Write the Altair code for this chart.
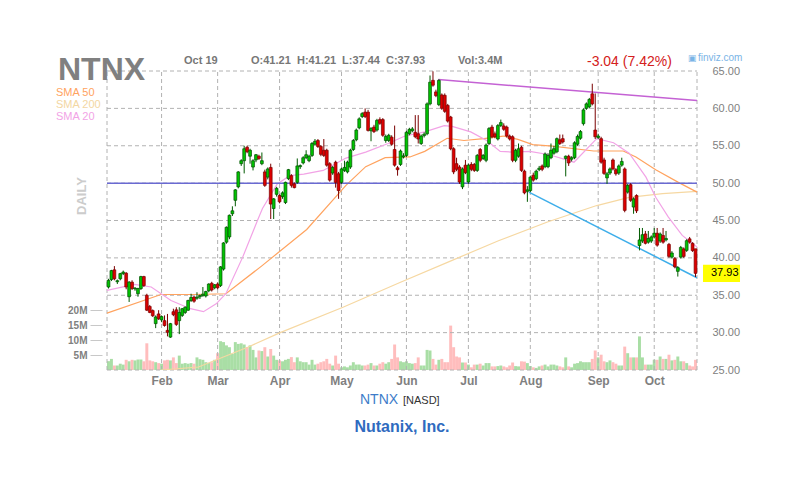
import altair as alt
import pandas as pd

# ---------------- data ----------------
opens = [36.1, 37.1, 38.4, 36.8, 37.2, 37.9, 37.95, 34.8, 36.75, 35.85,
         35.2, 35.9, 37.5, 35.0, 33.5, 32.95, 31.2, 32.5, 31.7, 31.6,
         30.3, 29.4, 32.8, 33.05, 31.6, 32.3, 32.7, 33.0, 34.3, 34.75,
         34.6, 34.8, 34.95, 34.9, 35.6, 36.6, 36.0, 36.5, 36.3, 38.5,
         42.1, 42.8, 45.9, 47.7, 49.5, 52.6, 53.0, 54.8, 53.6, 52.15,
         53.1, 53.6, 52.6, 51.5, 50.8, 52.1, 46.6, 48.5, 48.35, 48.2,
         47.4, 50.6, 51.0, 49.9, 50.1, 52.2, 52.7, 53.4, 53.0, 53.7,
         55.2, 55.7, 54.9, 54.4, 54.4, 52.6, 51.35, 52.8, 51.25, 50.1,
         51.7, 51.5, 52.15, 54.5, 55.8, 57.4, 58.9, 59.5, 59.5, 57.0,
         57.5, 57.1, 58.5, 58.5, 55.7, 55.7, 56.15, 54.5, 52.05, 52.5,
         53.5, 53.7, 56.6, 57.0, 56.8, 56.6, 55.3, 56.35, 56.6, 60.6,
         63.75, 62.2, 60.5, 61.8, 61.75, 60.4, 58.85, 54.6, 52.6, 52.15,
         49.5, 52.4, 50.15, 52.5, 52.5, 51.7, 54.5, 53.3, 53.05, 55.3,
         57.5, 56.6, 55.9, 57.7, 57.65, 57.5, 56.3, 56.2, 53.05, 53.6,
         54.8, 51.6, 48.9, 49.0, 51.05, 50.6, 51.8, 52.3, 52.2, 52.2,
         53.4, 54.0, 54.2, 55.8, 55.95, 53.3, 53.6, 53.2, 53.4, 55.2,
         56.0, 57.95, 60.0, 60.2, 61.95, 57.1, 56.1, 55.95, 53.1, 50.7,
         51.35, 53.1, 51.8, 51.35, 52.4, 51.9, 48.8, 49.8, 46.8, 48.35,
         41.65, 42.25, 43.2, 42.1, 42.25, 42.8, 43.3, 42.25, 43.0, 42.4,
         41.8, 40.1, 39.9, 38.2, 40.1, 41.2, 41.0, 42.55, 41.95, 41.21]
highs = [37.2, 38.4, 38.9, 37.1, 38.0, 38.3, 38.1, 36.9, 37.0, 36.1,
         36.0, 37.6, 37.6, 35.2, 33.7, 33.1, 32.3, 33.0, 32.3, 32.3,
         32.5, 31.3, 33.2, 33.4, 33.4, 33.3, 33.5, 34.4, 35.2, 34.9,
         35.4, 35.1, 36.1, 35.6, 36.6, 36.8, 36.5, 36.7, 38.9, 42.1,
         44.2, 45.8, 46.9, 49.2, 51.6, 53.2, 55.0, 55.0, 54.6, 53.2,
         53.9, 53.8, 54.1, 51.8, 52.1, 52.6, 48.0, 49.5, 48.5, 48.9,
         50.2, 51.9, 51.2, 50.1, 53.3, 52.5, 53.6, 54.4, 53.8, 55.5,
         55.9, 55.9, 55.1, 55.9, 54.6, 52.8, 52.3, 53.0, 51.5, 52.1,
         53.0, 53.0, 54.6, 55.9, 57.3, 58.8, 59.5, 60.0, 59.8, 57.5,
         57.8, 58.6, 58.8, 58.7, 56.5, 56.6, 56.4, 57.7, 52.3, 54.5,
         54.0, 57.0, 57.4, 57.5, 59.1, 59.1, 56.5, 56.8, 60.8, 64.4,
         64.96, 62.5, 63.9, 62.0, 62.0, 60.6, 59.0, 54.8, 53.4, 52.4,
         52.1, 53.1, 52.6, 52.8, 52.7, 53.9, 54.7, 53.9, 55.3, 57.5,
         57.8, 56.9, 57.9, 58.5, 58.0, 57.7, 56.5, 56.4, 54.6, 55.3,
         55.0, 51.8, 49.6, 51.0, 51.4, 51.8, 52.3, 52.5, 54.1, 54.0,
         55.3, 55.0, 56.1, 56.5, 56.5, 53.7, 53.8, 53.6, 55.6, 56.5,
         57.1, 60.0, 60.8, 61.4, 63.3, 62.0, 56.6, 56.2, 53.4, 51.5,
         52.1, 53.3, 52.0, 52.5, 53.4, 52.1, 49.9, 50.0, 48.1, 48.5,
         44.0, 44.0, 43.6, 43.6, 43.0, 44.0, 44.0, 43.4, 44.0, 43.6,
         42.0, 40.9, 40.1, 38.9, 41.6, 41.4, 42.5, 42.8, 42.1, 41.21]
lows = [35.9, 36.9, 37.0, 36.5, 37.0, 37.7, 35.8, 34.1, 35.7, 35.6,
        34.8, 35.7, 36.1, 32.9, 32.6, 32.1, 30.6, 31.7, 31.4, 30.8,
        29.5, 29.3, 32.2, 30.9, 29.8, 32.1, 32.5, 32.9, 34.1, 34.0,
        34.4, 34.5, 34.8, 34.7, 35.4, 35.5, 35.8, 35.8, 36.1, 38.3,
        41.9, 42.5, 45.6, 46.9, 49.3, 52.3, 51.3, 54.0, 52.6, 51.7,
        52.8, 53.1, 52.4, 49.5, 50.5, 45.2, 45.2, 48.2, 47.3, 47.9,
        47.2, 50.4, 49.4, 49.3, 49.9, 51.9, 52.5, 53.2, 52.8, 53.5,
        55.0, 54.7, 53.6, 53.5, 52.2, 50.2, 51.1, 49.4, 47.9, 49.9,
        51.5, 51.3, 51.9, 54.3, 55.6, 57.2, 58.7, 58.7, 56.9, 55.6,
        56.7, 56.9, 57.8, 56.2, 55.4, 55.5, 55.0, 52.2, 51.0, 52.3,
        53.3, 53.5, 56.4, 56.8, 56.0, 55.3, 55.1, 56.1, 56.4, 60.4,
        62.9, 61.5, 60.3, 59.8, 59.4, 58.1, 54.4, 51.2, 51.6, 49.9,
        49.2, 51.2, 49.9, 51.6, 51.5, 51.5, 52.8, 53.1, 52.8, 55.1,
        56.0, 56.0, 55.7, 57.5, 57.0, 56.1, 55.7, 52.8, 52.8, 53.4,
        51.5, 48.5, 47.5, 48.8, 50.2, 50.4, 51.6, 51.6, 52.0, 52.0,
        53.2, 53.8, 54.0, 55.1, 55.3, 50.9, 52.3, 52.9, 53.2, 55.0,
        55.8, 57.7, 59.8, 60.0, 60.4, 55.9, 55.9, 52.6, 51.1, 49.9,
        51.1, 51.7, 51.0, 51.1, 52.2, 46.1, 48.6, 47.5, 45.9, 46.0,
        41.0, 42.0, 41.8, 41.9, 42.0, 42.6, 41.5, 42.0, 41.9, 42.2,
        40.0, 39.9, 38.6, 37.5, 39.9, 40.0, 40.8, 41.9, 40.8, 37.44]
closes = [37.0, 38.3, 37.2, 36.95, 37.9, 38.1, 36.1, 36.75, 35.9, 35.95,
          35.9, 37.5, 36.3, 33.0, 32.7, 32.25, 32.1, 31.85, 32.15, 30.95,
          30.05, 31.2, 32.4, 31.1, 32.7, 33.2, 33.4, 34.3, 34.7, 34.2,
          34.75, 34.95, 35.15, 35.5, 36.5, 35.7, 36.4, 36.0, 38.8, 42.0,
          44.1, 45.7, 46.3, 49.1, 51.5, 53.0, 54.6, 54.2, 54.4, 53.0,
          53.8, 53.3, 53.0, 49.7, 51.9, 47.2, 47.9, 49.3, 47.5, 48.7,
          50.1, 51.8, 49.7, 49.4, 52.3, 52.35, 53.4, 53.8, 53.6, 55.3,
          55.6, 54.9, 53.85, 53.7, 52.4, 50.4, 52.1, 50.1, 49.0, 51.9,
          52.1, 52.8, 54.4, 55.7, 57.1, 58.6, 59.3, 58.9, 57.05, 57.3,
          56.9, 58.4, 58.0, 56.4, 56.25, 56.4, 55.2, 52.4, 51.8, 54.3,
          53.65, 56.8, 57.2, 57.25, 56.2, 55.9, 56.3, 56.55, 60.6, 63.5,
          63.1, 61.7, 63.75, 60.0, 59.6, 58.3, 54.6, 51.5, 51.85, 50.15,
          51.9, 51.4, 52.4, 51.85, 51.7, 53.7, 53.05, 53.7, 55.1, 57.3,
          56.2, 56.2, 57.7, 58.1, 57.2, 56.3, 55.9, 53.05, 54.4, 54.6,
          51.7, 48.7, 49.1, 50.8, 50.4, 51.6, 52.0, 51.85, 53.9, 53.7,
          54.4, 54.6, 55.95, 55.3, 55.5, 53.6, 52.7, 53.4, 55.4, 56.25,
          56.9, 59.8, 60.6, 61.2, 60.6, 56.2, 56.3, 52.8, 51.3, 51.25,
          51.9, 51.9, 51.25, 52.3, 52.9, 46.35, 49.7, 47.7, 47.9, 46.3,
          42.4, 43.1, 41.95, 42.6, 42.8, 43.3, 41.7, 43.2, 42.1, 42.6,
          40.2, 40.65, 38.8, 38.7, 41.4, 40.2, 42.3, 42.1, 40.97, 37.93]
volumes_m = [2.95, 3.7, 1.5, 1.5, 2.1, 1.8, 3.4, 2.9, 3.4, 3.2,
             3.5, 3.5, 2.9, 8.9, 3.2, 2.9, 2.6, 2.3, 2.1, 3.2,
             3.4, 3.2, 4.2, 2.3, 4.8, 2.1, 2.3, 2.1, 2.3, 2.1,
             4.2, 3.6, 3.4, 2.6, 2.3, 2.6, 3.4, 5.6, 9.6, 9.3,
             8.2, 7.6, 5.4, 9.3, 8.7, 8.9, 8.5, 7.6, 8.2, 6.7,
             4.2, 6.5, 6.3, 7.6, 4.5, 7.0, 4.8, 3.4, 3.2, 2.9,
             3.4, 3.7, 4.3, 2.6, 4.2, 2.9, 2.6, 2.6, 1.8, 3.4,
             1.8, 2.1, 2.6, 2.9, 3.7, 2.1, 1.5, 4.8, 2.1, 0.9,
             1.2, 0.9, 1.5, 2.6, 1.8, 1.8, 1.5, 1.5, 1.8, 2.3,
             1.5, 1.5, 2.1, 2.6, 2.1, 2.6, 3.7, 8.5, 4.2, 2.9,
             2.6, 2.9, 2.3, 2.1, 2.3, 4.2, 1.5, 1.5, 6.7, 6.5,
             3.7, 1.8, 3.4, 3.7, 2.6, 2.6, 14.8, 7.6, 4.5, 4.2,
             2.5, 2.5, 1.8, 0.9, 1.8, 1.8, 2.1, 1.5, 2.3, 2.3,
             1.2, 1.2, 1.3, 1.5, 1.2, 0.9, 1.5, 2.5, 1.3, 1.2,
             2.9, 2.8, 2.3, 1.3, 0.9, 0.7, 1.2, 1.5, 1.8, 1.2,
             1.8, 1.8, 1.5, 1.2, 0.9, 4.2, 1.2, 0.9, 2.1, 2.3,
             2.9, 2.6, 2.6, 2.6, 3.7, 6.5, 4.2, 5.1, 2.9, 2.6,
             3.2, 2.6, 2.1, 1.5, 1.5, 7.8, 5.6, 4.2, 4.2, 4.2,
             11.2, 4.2, 1.8, 1.8, 1.8, 3.4, 3.4, 4.5, 3.7, 3.7,
             5.1, 3.2, 3.4, 4.5, 2.9, 2.9, 2.3, 1.5, 1.2, 3.4]

month_names = ["Feb", "Mar", "Apr", "May", "Jun", "Jul", "Aug", "Sep", "Oct"]
month_start_bar = [18, 37, 58, 79, 101, 122, 143, 166, 185]
n_bars = 200

price_ticks = [25, 30, 35, 40, 45, 50, 55, 60, 65]
volume_ticks = [5, 10, 15, 20]

# moving averages sampled along the drawn curves (bar position, price)
sma20_pos = [0, 9.3, 15, 21.7, 28.3, 32.7, 37, 40.3, 46, 51, 52.7, 57.7, 62, 66.7,
             73.3, 81, 87.7, 95.3, 101, 107.7, 114.3, 117, 123.3, 128.7, 133.3,
             137.7, 143.3, 150, 158.3, 166, 171.7, 177, 182.7, 186, 190.3, 195, 200]
sma20_val = [35.65, 36.45, 36.1, 34.3, 33.2, 32.8, 33.85, 35.2, 40.1, 45.0, 46.6,
             49.9, 51.0, 51.2, 51.7, 53.35, 54.15, 55.3, 56.3, 56.85, 57.7, 57.6,
             56.85, 55.7, 54.25, 54.15, 54.25, 53.8, 52.8, 55.95, 55.4, 54.0,
             50.8, 48.1, 45.45, 43.0, 41.45]
sma50_pos = [0, 18.3, 29.3, 40.3, 52.7, 67.7, 81, 87.7, 94.3, 102.7, 107.7, 115.3,
             121, 127.7, 134.3, 139.3, 144.3, 151, 165, 175, 179.3, 186, 193.7, 200]
sma50_val = [32.6, 35.1, 35.1, 35.2, 39.0, 43.8, 49.7, 52.2, 53.4, 53.5, 54.25, 56.0,
             55.7, 55.95, 56.3, 55.85, 55.15, 54.96, 54.3, 54.3, 53.5, 51.8, 50.1, 48.8]
sma200_pos = [18.3, 31, 47.7, 58.7, 80, 99.3, 116, 132.7, 149.3, 166, 177, 188.3, 200]
sma200_val = [25.0, 25.4, 28.05, 30.0, 33.4, 36.7, 39.5, 42.3, 44.8, 47.0, 48.1, 48.6, 48.9]

resist_pos = [112.3, 200]
resist_val = [63.85, 61.04]
support_pos = [143, 200]
support_val = [48.8, 37.34]
level_line = 50

ticker = "NTNX"
company = "Nutanix, Inc."
exchange = "[NASD]"
date_label = "Oct 19"
ohlc_labels = ["O:41.21", "H:41.21", "L:37.44", "C:37.93"]
vol_label = "Vol:3.4M"
change_label = "-3.04 (7.42%)"

# ---------------- styling ----------------
FONT = "Liberation Sans"
GRAY = "#808080"
GRIDC = "#b2b2b2"
W, H = 600, 299

df = pd.DataFrame({"i": list(range(n_bars)), "o": opens, "h": highs,
                   "l": lows, "c": closes, "v": volumes_m})

xscale = alt.Scale(domain=[0, n_bars], nice=False, zero=False)
label_vals = [m + 0.5 for m in month_start_bar]
expr = "''"
for m, name in zip(reversed(month_start_bar), reversed(month_names)):
    expr = f"datum.value == {m + 0.5} ? '{name}' : ({expr})"
xaxis = alt.Axis(values=label_vals, labelExpr=expr, grid=False, domain=False, ticks=False,
                 title=None, labelFont=FONT, labelFontSize=12, labelFontWeight="bold",
                 labelColor=GRAY, labelPadding=5, labelAngle=0)

pscale = alt.Scale(domain=[25, 65], nice=False, zero=False)
paxis = alt.Axis(orient="right", values=price_ticks, format=".2f", grid=False,
                 domain=False, ticks=False, title=None, labelFont=FONT, labelFontSize=11,
                 labelColor=GRAY, labelPadding=10)


def X(field="u"):
    return alt.X(f"{field}:Q", scale=xscale, axis=xaxis)


def PY(field):
    return alt.Y(f"{field}:Q", scale=pscale, axis=paxis)


# dashed grid drawn as rules at the tick positions
grid_h = pd.DataFrame({"p": price_ticks, "a": [0] * len(price_ticks),
                       "b": [n_bars] * len(price_ticks)})
hgrid = alt.Chart(grid_h).mark_rule(
    color=GRIDC, strokeDash=[4, 3], strokeWidth=1).encode(
    y=PY("p"), x=X("a"), x2="b:Q")
v_pos = [0] + label_vals + [n_bars]
grid_v = pd.DataFrame({"u": v_pos, "lo": [25.0] * len(v_pos), "hi": [65.0] * len(v_pos)})
vgrid = alt.Chart(grid_v).mark_rule(
    color=GRIDC, strokeDash=[4, 3], strokeWidth=1).encode(
    x=X(), y=PY("lo"), y2="hi:Q")

base = alt.Chart(df).transform_calculate(
    u="datum.i + 0.5", x1="datum.i + 1"
)

# volume (own scale)
vol = base.mark_rect().encode(
    x=X("i"), x2="x1:Q",
    y=alt.Y("v:Q", scale=alt.Scale(domain=[0, H / 3.0], nice=False),
            axis=alt.Axis(orient="left", values=volume_ticks, labelExpr="datum.value + 'M'",
                          grid=False, domain=False, ticks=True, tickSize=12,
                          tickColor="#c8c8c8", labelFont=FONT,
                          labelFontSize=10, labelFontWeight="bold", labelColor=GRAY,
                          labelPadding=3, title=None)),
    y2=alt.datum(0),
    color=alt.condition("datum.c >= datum.o", alt.value("#a9dea5"), alt.value("#ffbdbd")),
)


def line_layer(pos, val, color, width=1.2):
    d = pd.DataFrame({"u": pos, "p": val})
    return alt.Chart(d).mark_line(color=color, strokeWidth=width, clip=True).encode(
        x=X(), y=PY("p"))


sma200 = line_layer(sma200_pos, sma200_val, "#f6d8a2")
sma50 = line_layer(sma50_pos, sma50_val, "#ffa35f")
sma20 = line_layer(sma20_pos, sma20_val, "#f2a3e6")
resist = line_layer(resist_pos, resist_val, "#c462d4", 1.5)
support = line_layer(support_pos, support_val, "#3eaeea", 1.5)
hline = line_layer([0, n_bars], [level_line, level_line], "#6a6ad2", 1.5)

wick = base.mark_rule(strokeWidth=1).encode(
    x=X(), y=PY("l"), y2="h:Q",
    color=alt.condition("datum.c >= datum.o", alt.value("#005a00"), alt.value("#7a0000")),
)
body = base.mark_bar(size=2.8, strokeWidth=0.7).encode(
    x=X(), y=PY("o"), y2="c:Q",
    color=alt.condition("datum.c >= datum.o", alt.value("#00c400"), alt.value("#dd0000")),
    stroke=alt.condition("datum.c >= datum.o", alt.value("#004d00"), alt.value("#7a0000")),
)

# last price box on the right axis
last = pd.DataFrame({"p": [closes[-1]]})
last_box = alt.Chart(last).transform_calculate(
    top="datum.p + 1.15", bot="datum.p - 1.15"
).mark_rect(color="#ffff00").encode(
    x=alt.value(W + 1), x2=alt.value(W + 38), y=PY("top"), y2="bot:Q")
last_txt = alt.Chart(last).mark_text(
    font=FONT, fontSize=11, color="#000000", align="left", baseline="middle"
).encode(x=alt.value(W + 9), y=PY("p"), text=alt.Text("p:Q", format=".2f"))


def txt(text, x, y, size, color, weight="normal", align="left", angle=0, baseline="alphabetic"):
    kw = dict(font=FONT, fontSize=size, color=color, fontWeight=weight, align=align,
              baseline=baseline)
    if angle:
        kw["angle"] = angle
    return alt.Chart(pd.DataFrame({"t": [text]})).mark_text(**kw).encode(
        x=alt.value(x), y=alt.value(y), text="t:N")


texts = [
    txt(ticker, -44, 9, 32, GRAY, "bold"),
    txt(date_label, 82, -7, 11, "#777777", "bold"),
    txt(vol_label, 356, -7, 11, "#777777", "bold"),
    txt(change_label, 485, -5, 14, "#d42020"),
    txt("\u25a3", 586, -10, 9, "#7ab4e6"),
    txt("finviz.com", 596, -10, 10, "#7ab4e6"),
    txt("SMA 50", -46, 25, 11, "#ffa35f"),
    txt("SMA 200", -46, 37, 11, "#f3d7a3"),
    txt("SMA 20", -46, 49, 11, "#f2a3e6"),
    txt("DAILY", -20, 125, 13, "#cccccc", "bold", "center", 270, "middle"),
    txt(ticker, 258, 333, 14, "#3d7cc9"),
    txt(exchange, 301, 333, 11, "#333333"),
    txt(company, 300, 361, 16, "#2f6bbf", "bold", "center"),
]
for lab, xpos in zip(ohlc_labels, [149, 195, 240, 284]):
    texts.append(txt(lab, xpos, -7, 11, "#777777", "bold"))

price = alt.layer(hgrid, vgrid, sma200, sma50, sma20, hline, resist, support, wick, body,
                  last_box, last_txt, *texts)

chart = alt.layer(vol, price).resolve_scale(y="independent").properties(
    width=W, height=H,
    autosize=alt.AutoSizeParams(type="none"),
    padding={"left": 94, "top": 63, "right": 89, "bottom": 110},
    background="#ffffff",
).configure_view(stroke=None)

chart.save("out.html", embed_options={"renderer": "svg", "actions": False})
